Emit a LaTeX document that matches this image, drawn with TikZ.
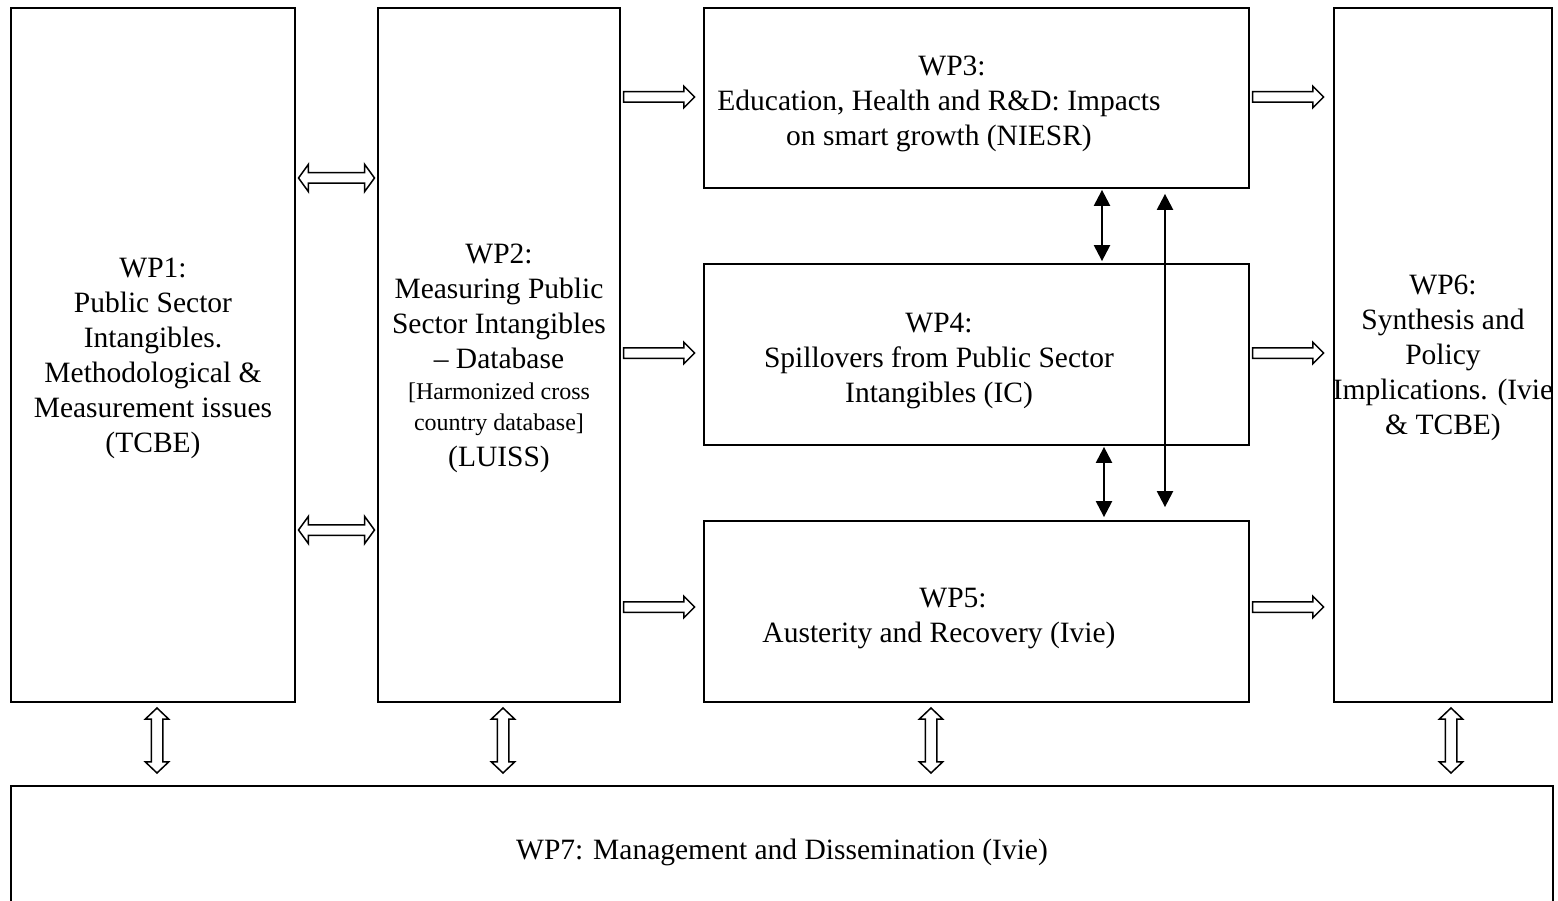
\documentclass[tikz,border=0pt]{standalone}
\usepackage{fontspec}
\setmainfont{Liberation Serif}
\usetikzlibrary{shapes.arrows,arrows.meta,calc}
\tikzset{
  box/.style={draw=black, line width=1.8pt, inner sep=0pt, align=center, font=\fontsize{29.5}{35}\selectfont},
  txt/.style={inner sep=0pt, align=center, font=\fontsize{29.5}{35}\selectfont},
  harrow/.style={single arrow, draw=black, fill=white, line width=1.5pt, inner sep=4.5pt,
     single arrow head extend=5.5pt, single arrow tip angle=90, minimum height=71pt},
  dharrow/.style={double arrow, draw=black, fill=white, line width=1.5pt, inner sep=4.5pt,
     double arrow head extend=8.5pt, double arrow tip angle=108, minimum height=76pt},
  dvarrow/.style={double arrow, draw=black, fill=white, line width=1.5pt, inner sep=5pt,
     double arrow head extend=6pt, double arrow tip angle=93, minimum height=65pt, shape border rotate=90},
  solidarrow/.style={{Triangle[length=16pt,width=16pt]}-{Triangle[length=16pt,width=16pt]}, line width=2.3pt}
}
\begin{document}
\begin{tikzpicture}[x=1pt,y=-1pt]
\clip (0,0) rectangle (1558,901);
\fill[white] (0,0) rectangle (1558,901);
% boxes
\node[box, minimum width=284pt, minimum height=694pt] (wp1) at (153,355) {};
\node[txt] (t1) at (153,358)
  {WP1:\\Public Sector\\Intangibles.\\Methodological \&\\Measurement issues\\(TCBE)};
\node[box, minimum width=242pt, minimum height=694pt] (wp2) at (499,355) {};
\node[txt] (t2) at (499,358)
  {WP2:\\Measuring Public\\Sector Intangibles\\\textendash{} Database\\[-4pt]
   {\fontsize{24}{31}\selectfont [Harmonized cross}\\[-4pt]
   {\fontsize{24}{31}\selectfont country database]}\\[1pt](LUISS)};
\node[box, minimum width=545pt, minimum height=180pt] (wp3) at (976.5,98) {};
\node[box, minimum width=545pt, minimum height=181pt] (wp4) at (976.5,354.5) {};
\node[box, minimum width=545pt, minimum height=181pt] (wp5) at (976.5,611.5) {};
\node[box, minimum width=218pt, minimum height=694pt] (wp6) at (1443,355) {};
\node[txt] (t6) at (1443,358)
  {WP6:\\Synthesis and\\Policy\\Implications. (Ivie\\\& TCBE)};
\node[box, minimum width=1542pt, minimum height=126pt] (wp7) at (782,849) {};
\node[txt] (t7) at (782,852) {WP7: Management and Dissemination (Ivie)};
% texts of WP3-5
\node[txt] (t3) at (939,104) {\hspace*{26pt}WP3:\\Education, Health and R\&D: Impacts\\on smart growth (NIESR)};
\node[txt] (t4) at (939,361) {WP4:\\Spillovers from Public Sector\\Intangibles (IC)};
\node[txt] (t5) at (939,619) {\hspace*{28pt}WP5:\\Austerity and Recovery (Ivie)};
% hollow double arrows WP1-WP2
\node[dharrow] (a12a) at ($(wp1.east)!0.5!(wp2.west) + (0,-177)$) {};
\node[dharrow] (a12b) at ($(wp1.east)!0.5!(wp2.west) + (0,175)$) {};
% hollow right arrows
\node[harrow, anchor=tail] (r3) at ($(wp2.east |- wp3.center)+(2,-1)$) {};
\node[harrow, anchor=tail] (r4) at ($(wp2.east |- wp4.center)+(2,-1.5)$) {};
\node[harrow, anchor=tail] (r5) at ($(wp2.east |- wp5.center)+(2,-4.5)$) {};
\node[harrow, anchor=tail] (s3) at ($(wp3.east |- wp3.center)+(2,-1)$) {};
\node[harrow, anchor=tail] (s4) at ($(wp4.east |- wp4.center)+(2,-1.5)$) {};
\node[harrow, anchor=tail] (s5) at ($(wp5.east |- wp5.center)+(2,-4.5)$) {};
% vertical hollow double arrows
\coordinate (v1) at (157,740.5);
\coordinate (v2) at (503,740.5);
\coordinate (v3) at (931,740.5);
\coordinate (v4) at (1451,740.5);
\node[dvarrow] (d1) at (v1) {};
\node[dvarrow] (d2) at (v2) {};
\node[dvarrow] (d3) at (v3) {};
\node[dvarrow] (d4) at (v4) {};
% solid double arrows
\coordinate (c1) at (1102,0);
\coordinate (c2) at (1104,0);
\coordinate (c3) at (1165,0);
\draw[solidarrow, shorten <=1pt, shorten >=2pt] (c1 |- wp3.south) -- (c1 |- wp4.north);
\draw[solidarrow, shorten <=1pt, shorten >=3pt] (c2 |- wp4.south) -- (c2 |- wp5.north);
\draw[solidarrow, shorten <=5pt, shorten >=13pt] (c3 |- wp3.south) -- (c3 |- wp5.north);
\end{tikzpicture}
\end{document}
